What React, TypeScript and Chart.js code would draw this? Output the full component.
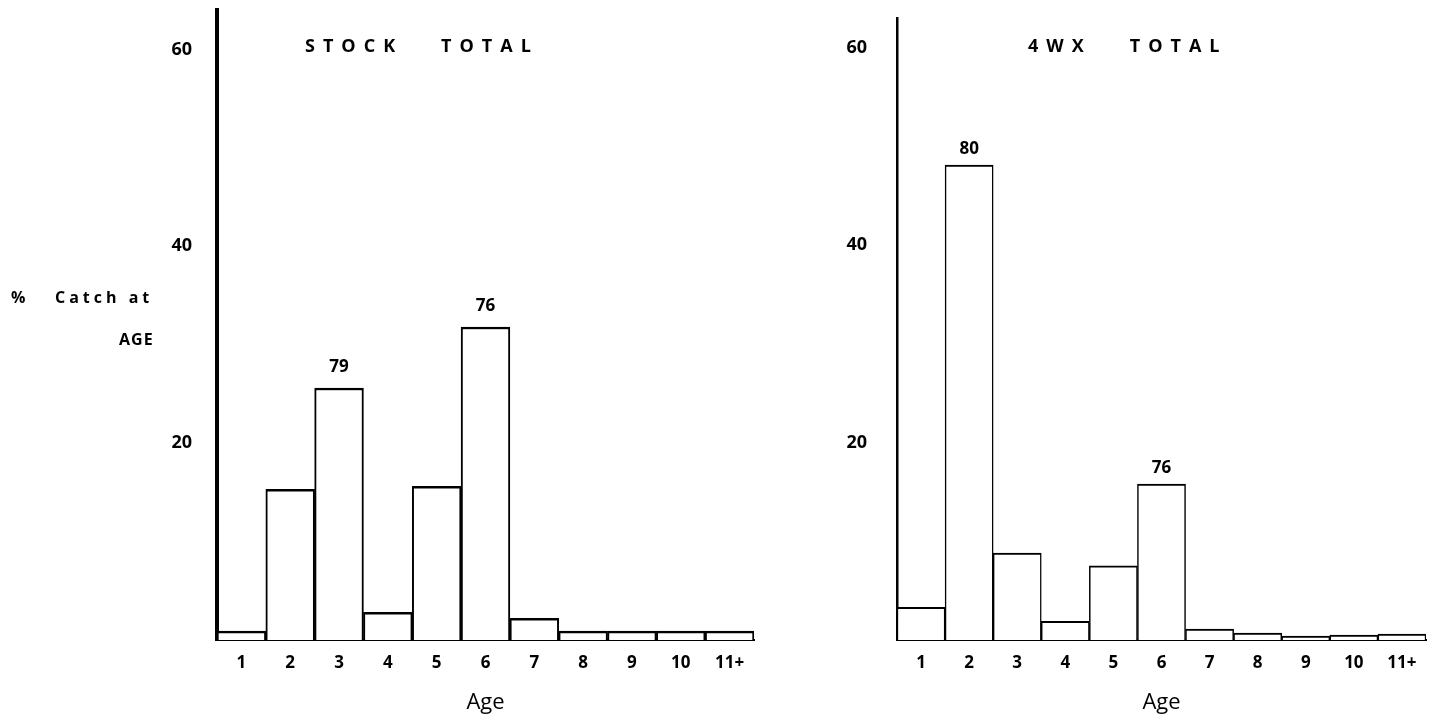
import React, { useEffect, useRef } from "react";
import { Chart, registerables } from "chart.js";

Chart.register(...registerables);

// ---- data ----
const ages = ["1", "2", "3", "4", "5", "6", "7", "8", "9", "10", "11+"];
const stockTotal = [0.9, 15.3, 25.6, 2.8, 15.6, 31.8, 2.2, 0.9, 0.9, 0.9, 0.9];
const wx4Total = [3.3, 48.1, 8.8, 1.9, 7.5, 15.8, 1.1, 0.7, 0.4, 0.5, 0.6];
const stockYearClass = ["", "", "79", "", "", "76", "", "", "", "", ""];
const wx4YearClass = ["", "80", "", "", "", "76", "", "", "", "", ""];
const yTickValues = [20, 40, 60];
const stockTitle = "STOCK   TOTAL";
const wx4Title = "4WX   TOTAL";
const xTitle = "Age";
const yTitleLines = ["%", "Catch at", "AGE"];

const FONT = '"Open Sans", "DejaVu Sans", sans-serif';

const annotatePlugin = {
  id: "annot",
  afterDraw(chart: any, _args: any, opts: any) {
    const ctx = chart.ctx;
    const area = chart.chartArea;
    const meta = chart.getDatasetMeta(0);
    ctx.save();
    ctx.fillStyle = "#000";
    ctx.textBaseline = "middle";
    // year-class labels above bars
    ctx.font = `700 17px ${FONT}`;
    ctx.textAlign = "center";
    meta.data.forEach((el: any, i: number) => {
      const t = opts.yearClass[i];
      if (t) ctx.fillText(t, el.x, el.y - opts.yearDy);
    });
    // panel title
    ctx.font = `700 18px ${FONT}`;
    ctx.textAlign = "left";
    (ctx as any).letterSpacing = "8px";
    ctx.fillText(opts.title, area.left + opts.titleDx, area.top + opts.titleDy);
    // y title (left panel only)
    if (opts.showYTitle) {
      (ctx as any).letterSpacing = "0px";
      ctx.font = `700 16px ${FONT}`;
      ctx.fillText(yTitleLines[0], 11, 298);
      ctx.font = `700 16px ${FONT}`;
      (ctx as any).letterSpacing = "4px";
      ctx.fillText(yTitleLines[1], 55, 298);
      (ctx as any).letterSpacing = "1px";
      ctx.fillText(yTitleLines[2], 119, 340);
    }
    ctx.restore();
  },
};

type PanelProps = {
  values: number[];
  yearClass: string[];
  yearDy: number;
  title: string;
  titleDx: number;
  titleDy: number;
  yMax: number;
  padding: { left: number; right: number; top: number; bottom: number };
  yBorder: number;
  barSide: number;
  barTop: number;
  tickPad: number;
  showYTitle: boolean;
  left: number;
  width: number;
};

function Panel(p: PanelProps) {
  const ref = useRef<HTMLCanvasElement>(null);
  useEffect(() => {
    if (!ref.current) return;
    const chart = new Chart(ref.current, {
      type: "bar",
      data: {
        labels: ages,
        datasets: [
          {
            data: p.values,
            backgroundColor: "#ffffff",
            borderColor: "#000000",
            borderWidth: { left: p.barSide, right: p.barSide, top: p.barTop, bottom: 0 } as any,
            barPercentage: 1,
            categoryPercentage: 1,
          },
        ],
      },
      options: {
        responsive: false,
        animation: false,
        layout: { padding: p.padding },
        plugins: {
          legend: { display: false },
          tooltip: { enabled: false },
          annot: {
            yearClass: p.yearClass,
            yearDy: p.yearDy,
            title: p.title,
            titleDx: p.titleDx,
            titleDy: p.titleDy,
            showYTitle: p.showYTitle,
          },
        } as any,
        scales: {
          x: {
            grid: { display: false, drawTicks: false },
            border: { display: true, color: "#000", width: 2 },
            ticks: {
              color: "#000",
              font: { family: FONT, size: 17, weight: "bold" },
              padding: 13,
              maxRotation: 0,
              autoSkip: false,
            },
            title: {
              display: true,
              text: xTitle,
              color: "#000",
              font: { family: FONT, size: 22, weight: 500 },
              padding: { top: 4, bottom: 4 },
            },
            afterFit(scale: any) {
              scale.height = 80;
              scale.paddingLeft = 0;
              scale.paddingRight = 0;
            },
          },
          y: {
            min: 0,
            max: p.yMax,
            grid: { display: false, drawTicks: false },
            border: { display: true, color: "#000", width: p.yBorder },
            ticks: {
              color: "#000",
              font: { family: FONT, size: 18, weight: "bold" },
              padding: p.tickPad,
            },
            afterBuildTicks(scale: any) {
              scale.ticks = yTickValues.map((v) => ({ value: v }));
            },
            afterFit(scale: any) {
              scale.width = 60;
              scale.paddingTop = 0;
              scale.paddingBottom = 0;
            },
          },
        },
      },
      plugins: [annotatePlugin as any],
    });
    return () => chart.destroy();
  }, []);
  return (
    <canvas
      ref={ref}
      width={p.width}
      height={728}
      style={{ position: "absolute", left: p.left, top: 0, display: "block" }}
    />
  );
}

export default function App() {
  return (
    <div style={{ position: "absolute", left: 0, top: 0, width: 1439, height: 728, background: "#fff" }}>
      <Panel
        values={stockTotal}
        yearClass={stockYearClass}
        yearDy={21}
        title={stockTitle}
        titleDx={88}
        titleDy={37}
        yMax={64}
        padding={{ left: 157, right: 36, top: 10, bottom: 8 }}
        yBorder={4}
        barSide={2}
        barTop={2.5}
        tickPad={25}
        showYTitle={true}
        left={0}
        width={790}
      />
      <Panel
        values={wx4Total}
        yearClass={wx4YearClass}
        yearDy={16}
        title={wx4Title}
        titleDx={131}
        titleDy={29}
        yMax={63}
        padding={{ left: 57, right: 13, top: 18, bottom: 8 }}
        yBorder={2.5}
        barSide={1.5}
        barTop={2}
        tickPad={30}
        showYTitle={false}
        left={780}
        width={659}
      />
    </div>
  );
}
